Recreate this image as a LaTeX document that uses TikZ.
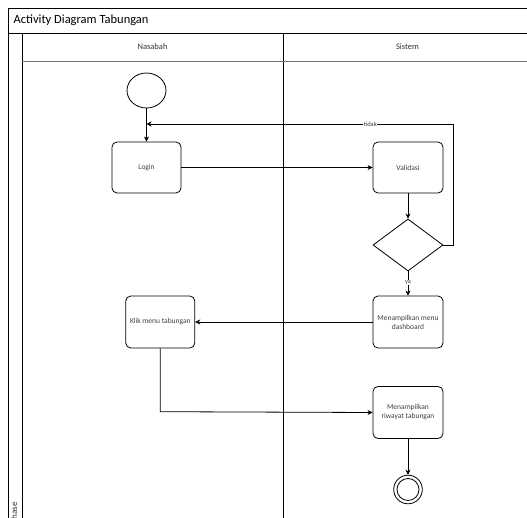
\documentclass[tikz,border=0pt]{standalone}
\usepackage{fontspec}
\setmainfont{Carlito}
\usetikzlibrary{shapes.geometric,arrows.meta}
\begin{document}
\begin{tikzpicture}[x=1pt,y=-1pt,
  act/.style={draw,line width=0.8pt,rounded corners=5pt,minimum width=69pt,minimum height=51pt,inner sep=1pt,align=center,font=\fontsize{7.5}{9}\selectfont,text=black!75},
  dec/.style={draw,line width=0.8pt,diamond,minimum width=70pt,minimum height=52pt,inner sep=0pt,aspect=1.35},
  arr/.style={line width=0.8pt,-{Stealth[length=5pt,width=5pt,inset=1.5pt]}},
  lbl/.style={fill=white,inner sep=0.5pt,font=\fontsize{6.5}{7.5}\selectfont,text=black!75},
  frame/.style={line width=0.8pt}]
\useasboundingbox (0,0) rectangle (527,518);
\begin{scope}
\clip (0,0) rectangle (527,518);
% frame
\draw[frame] (8,530) -- (8,8) -- (540,8);
\draw[frame] (8,33) -- (540,33);
\draw[frame] (22,33) -- (22,530);
\draw[frame] (283,33) -- (283,530);
\draw[line width=0.8pt,black!55] (22,61) -- (540,61);
\node[anchor=west,font=\fontsize{12.5}{14}\selectfont] (title) at (10,20.5) {Activity Diagram Tabungan};
\node[font=\fontsize{8.5}{10}\selectfont,text=black!80] (h1) at (152.5,47) {Nasabah};
\node[font=\fontsize{8.5}{10}\selectfont,text=black!80] (h2) at (407.5,47) {Sistem};
\node[rotate=90,font=\fontsize{9}{10}\selectfont,text=black!80] (phase) at (14,513) {Phase};
\end{scope}
% nodes
\node[draw,line width=0.8pt,ellipse,minimum width=39pt,minimum height=35pt,inner sep=0pt] (start) at (146.5,90.5) {};
\node[act] (login) at (146.5,167.5) {Login};
\node[act,minimum width=70pt] (val) at (408,167.5) {Validasi};
\node[dec] (d) at (408,245) {};
\node[act,minimum width=70pt,minimum height=52pt] (dash) at (408,322) {Menampilkan menu\\dashboard};
\node[act,minimum height=52pt] (klik) at (160.3,322) {Klik menu tabungan};
\node[act,minimum width=70pt,minimum height=52pt] (riw) at (408,412.5) {Menampilkan\\riwayat tabungan};
\node[draw,line width=0.8pt,circle,minimum size=28.6pt,inner sep=0pt] (end) at (408,489.5) {};
\node[draw,line width=0.8pt,circle,minimum size=22pt,inner sep=0pt] (endin) at (408,489.5) {};
\coordinate (loopR) at (453,245);
\coordinate (loopT) at (453,124);
\coordinate (join) at (146.5,124);
\coordinate (klikB) at (160.3,411.7);
% edges
\draw[arr] (start) -- (login);
\draw[arr] (login) -- (val);
\draw[arr] (val) -- (d);
\draw[arr] (d.east) -- (loopR) -- (loopT) -- node[lbl,pos=0.27] {tidak} (join);
\draw[arr] (d.south) -- node[lbl,pos=0.47] {ya} (dash.north);
\draw[arr] (dash.west) -- (klik.east);
\draw[arr] (klik.south) -- (klikB) -- (riw.west);
\draw[arr] (riw) -- (end);
\end{tikzpicture}
\end{document}
